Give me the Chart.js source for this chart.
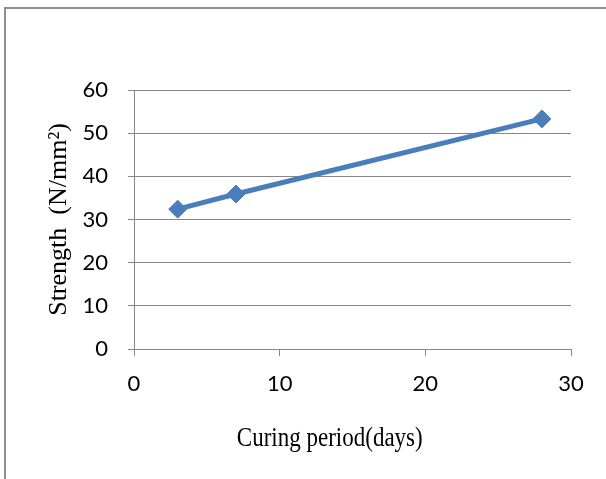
<!DOCTYPE html>
<html>
<head>
<meta charset="utf-8">
<script src="https://cdn.jsdelivr.net/npm/chart.js@4/dist/chart.umd.min.js"></script>
<style>
  html, body { margin: 0; padding: 0; background: #ffffff; }
  #wrap { position: relative; width: 606px; height: 479px; }
</style>
</head>
<body>
<div id="wrap"><canvas id="chart" width="606" height="479"></canvas></div>
<script>
// Curing period (days) and measured strength (N/mm²)
const curingDays = [3, 7, 28];
const strength = [32.4, 35.9, 53.3];
const xTicks = [0, 10, 20, 30];
const yTicks = [0, 10, 20, 30, 40, 50, 60];
const xTitle = 'Curing period(days)';
const yTitle = 'Strength  (N/mm²)';

const gridGray = '#878787';
const seriesBlue = '#4a7ebb';

// outer frame (left and top edges) around the chart
const framePlugin = {
  id: 'frame',
  beforeDraw(chart) {
    const ctx = chart.ctx;
    ctx.save();
    ctx.fillStyle = '#8e8e8e';
    ctx.fillRect(4, 7, chart.width - 4, 2);
    ctx.fillRect(4, 7, 2, chart.height - 7);
    ctx.restore();
  }
};

// x-axis caption, placed below the tick labels
const xCaptionPlugin = {
  id: 'xCaption',
  afterDraw(chart) {
    const ctx = chart.ctx;
    const area = chart.chartArea;
    ctx.save();
    ctx.font = '23px "Liberation Serif", "Times New Roman", serif';
    ctx.fillStyle = '#000000';
    ctx.textAlign = 'center';
    ctx.textBaseline = 'alphabetic';
    ctx.translate(area.left + (area.right - area.left) * 0.448, area.bottom + 97);
    ctx.scale(1, 1.22);
    ctx.fillText(xTitle, 0, 0);
    ctx.restore();
  }
};

const points = curingDays.map((d, i) => ({ x: d, y: strength[i] }));

new Chart(document.getElementById('chart'), {
  type: 'line',
  data: {
    datasets: [{
      data: points,
      borderColor: seriesBlue,
      backgroundColor: seriesBlue,
      borderWidth: 5,
      pointStyle: 'rectRot',
      pointRadius: 9,
      pointHoverRadius: 9,
      pointBackgroundColor: seriesBlue,
      pointBorderColor: seriesBlue,
      pointBorderWidth: 1,
      tension: 0,
      fill: false
    }]
  },
  options: {
    responsive: false,
    animation: false,
    events: [],
    layout: { padding: { top: 90, right: 35, left: 0, bottom: 0 } },
    plugins: {
      legend: { display: false },
      tooltip: { enabled: false },
      title: { display: false }
    },
    scales: {
      x: {
        type: 'linear',
        min: 0,
        max: 30,
        afterBuildTicks(scale) { scale.ticks = xTicks.map(v => ({ value: v })); },
        afterFit(scale) { scale.height = 130; },
        grid: {
          drawOnChartArea: false,
          drawTicks: true,
          tickLength: 7,
          color: gridGray,
          lineWidth: 1
        },
        border: { display: true, color: gridGray, width: 1 },
        ticks: {
          padding: 15,
          color: '#000000',
          maxRotation: 0,
          font: { family: 'Lato, "Open Sans", sans-serif', size: 22 }
        }
      },
      y: {
        min: 0,
        max: 60,
        afterBuildTicks(scale) { scale.ticks = yTicks.map(v => ({ value: v })); },
        afterFit(scale) { scale.width = 134; },
        grid: {
          drawOnChartArea: true,
          drawTicks: true,
          tickLength: 6,
          color: gridGray,
          lineWidth: 1
        },
        border: { display: true, color: gridGray, width: 1 },
        ticks: {
          padding: 20,
          color: '#000000',
          font: { family: 'Lato, "Open Sans", sans-serif', size: 22 }
        },
        title: {
          display: true,
          text: yTitle,
          color: '#000000',
          padding: { top: 44, bottom: 0 },
          font: { family: '"Liberation Serif", "Times New Roman", serif', size: 26, weight: 'normal' }
        }
      }
    }
  },
  plugins: [framePlugin, xCaptionPlugin]
});
</script>
</body>
</html>
